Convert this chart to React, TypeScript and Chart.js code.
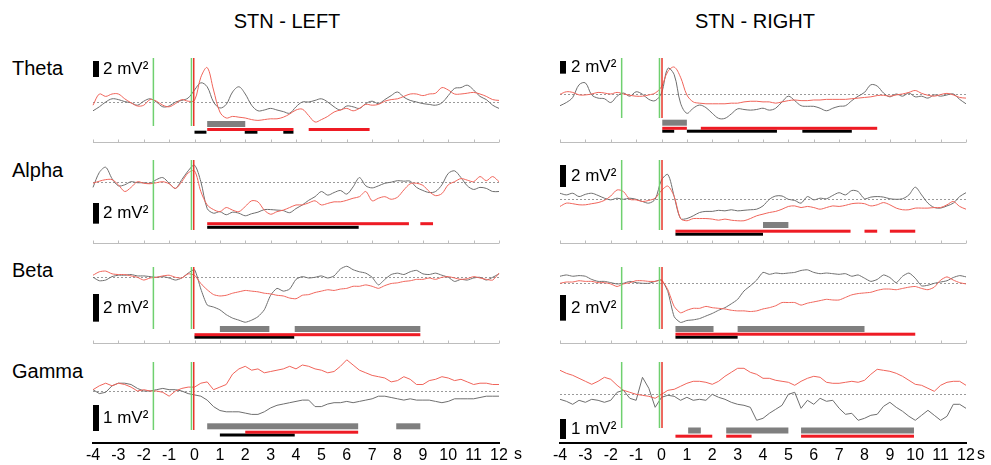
import React, { useEffect, useRef } from "react";
import { Chart, registerables } from "chart.js";

Chart.register(...registerables);

const FONT = "Arial, 'Liberation Sans', Helvetica, sans-serif";

// ---------- data ----------
const T_START = -4;
const T_STEP = 0.25;
const T_END = 12;
const TIMES: number[] = Array.from({ length: 65 }, (_, i) => T_START + i * T_STEP);
const X_TICKS = [-4, -3, -2, -1, 0, 1, 2, 3, 4, 5, 6, 7, 8, 9, 10, 11, 12];

// event markers (s)
const LEFT_GREEN_EVENTS = [-1.62, -0.12];
const LEFT_RED_EVENTS = [-0.03];
const RIGHT_GREEN_EVENTS = [-1.57, -0.08];
const RIGHT_RED_EVENTS = [0.02];

// Theta
const THETA_LEFT_GRAY = [-1.1, -0.6, 0, 0.4, 0.3, 0.05, -0.1, -0.4, 0.1, 0.4, 0, -0.6, -0.5, 0, 0.2, 0.5, 1.5, 2.4, 1.9, 0, -0.75, -0.3, 1.25, 1.9, 1.0, -0.4, -1.1, -1.0, -0.8, -1.0, -1.2, -1.4, -0.6, 0, 0, 0.2, 0.4, 0, -0.6, -1.0, -0.5, -0.6, -0.8, -0.2, 0.1, -0.2, 0.3, 0.8, 1.25, 0.6, 0.2, 0, -0.2, -0.3, -0.4, -0.1, 0.8, 1.7, 1.8, 2.1, 1.5, 0.7, 0.3, -0.4, -0.8];
const THETA_LEFT_RED = [-0.4, 1.0, 0.7, 1.0, 1.0, 0.4, -0.1, -0.5, -0.4, 0.3, 0.1, -0.4, -0.6, -0.2, 0.3, 0.1, 0.2, 3.1, 4.3, 1.5, -1.25, -2.0, -1.8, -1.9, -2.0, -2.2, -2.3, -2.2, -2.1, -2.1, -1.9, -1.5, -1.0, -0.9, -1.7, -2.5, -2.2, -1.8, -1.25, -1.0, -0.8, -1.1, -0.8, -0.3, -0.4, -0.3, 0.1, 0.3, 0.4, 0.7, 1.0, 1.0, 0.8, 1.0, 1.1, 1.8, 1.5, 1.0, 1.0, 1.1, 1.2, 1.0, 0.7, 0.3, 0.2];
const THETA_RIGHT_GRAY = [-1.8, -1.3, -0.5, 1.5, 1.8, -0.1, -0.6, -0.7, -1.3, -0.3, 0.2, -0.3, 0.4, 0, -0.8, -1.0, 0.2, 4.1, 3.1, -1.4, -3.0, -2.2, -1.7, -2.1, -3.0, -3.8, -3.8, -3.1, -2.3, -2.4, -2.5, -2.4, -2.2, -2.5, -2.2, -1.2, -0.3, -1.0, -1.8, -1.9, -1.9, -2.2, -2.6, -2.2, -1.9, -1.8, -1.0, -0.3, 0.3, 1.5, 1.3, 0.2, -0.4, 0.05, -0.3, 0.2, -0.4, -0.3, -0.6, -0.1, -0.3, -0.1, 0.05, -0.8, -1.5];
const THETA_RIGHT_RED = [0, 0.4, 0.3, -0.1, -0.1, 0.05, 0.3, 0.2, 0.05, 0.3, 0.05, -0.15, -0.3, -0.3, -0.1, 0.2, 1.2, 3.6, 4.3, 2.7, -0.1, -1.2, -1.4, -1.5, -1.5, -1.5, -1.5, -1.4, -1.4, -1.2, -1.1, -1.1, -1.2, -1.2, -1.4, -1.2, -1.0, -0.9, -1.0, -1.0, -0.9, -0.9, -0.8, -0.8, -0.8, -0.8, -0.7, -0.6, -0.5, -0.4, -0.2, -0.15, -0.3, -0.1, 0.05, 0.3, 0.6, 0.15, -0.15, -0.3, -0.05, 0.15, -0.1, -0.5, -0.6];

// Alpha
const ALPHA_LEFT_GRAY = [-0.55, 0.9, 1.4, 0.3, -0.4, -0.3, 0, -0.1, -0.1, -0.15, 0.2, 0.4, -0.15, -0.65, 0.2, 1.05, 1.6, 0, -2.6, -3.05, -2.9, -3.2, -2.95, -3.05, -3.3, -3.1, -2.95, -2.7, -2.7, -2.75, -2.8, -3.0, -2.6, -2.25, -1.8, -1.45, -0.95, -1.3, -1.05, -0.85, -1.2, -0.5, 0.4, -0.4, -0.6, -0.4, -0.15, -0.05, 0.1, 0.05, 0.05, -0.55, -0.85, -1.05, -0.95, -0.3, 0.8, 1.05, 0.4, -0.4, -0.75, -0.55, -0.65, -0.95, -0.95];
const ALPHA_LEFT_RED = [-0.15, 0.05, 0.2, 0.2, -0.3, -0.95, -0.55, 0, -0.15, -0.2, -0.1, 0, -0.2, -0.65, 0, 0.85, 1.05, -0.95, -2.25, -2.7, -2.9, -2.5, -2.75, -2.9, -2.4, -1.85, -1.95, -2.75, -3.15, -2.9, -2.75, -2.5, -2.25, -2.25, -2.05, -1.85, -2.25, -2.1, -1.95, -1.95, -1.8, -1.6, -1.45, -0.95, -1.85, -1.6, -1.45, -1.7, -1.5, -0.8, -0.2, -0.15, -0.35, -0.95, -1.35, -1.15, -0.3, 0, 0.3, 0.15, 0, 0.5, 0.1, 0.5, 0];
const ALPHA_RIGHT_GRAY = [0.55, 0.4, 0.55, 0.25, 0.45, 0.55, 0.35, 0.1, -0.05, 0.1, 0, 0.1, 0, -0.2, -0.35, 0, 1.75, 2.25, 0.25, -1.75, -1.75, -1.5, -1.2, -1.1, -1.1, -1.0, -1.05, -0.95, -1.05, -1.0, -0.95, -0.9, -0.6, 0, 0.3, 0.3, 0, -0.1, -0.35, 0.25, -0.05, 0.1, 0.05, 0.35, 0.6, 0.4, 0.8, 0.7, 0.05, 0.2, 0.25, 0.2, 0.05, 0, 0.05, 0.4, 1.1, 0.4, -0.35, -0.75, -0.8, -0.6, -0.35, 0.25, 0.6];
const ALPHA_RIGHT_RED = [-0.65, -0.35, -0.4, -0.5, -0.5, -0.4, -0.3, -0.1, 0.3, 0.85, 0.7, 0, -0.05, -0.2, -0.1, 0.1, 0.8, 1.2, 0.25, -1.75, -1.95, -1.75, -1.75, -1.75, -1.8, -1.9, -1.8, -1.9, -1.95, -1.95, -1.75, -1.5, -1.35, -1.2, -1.1, -0.9, -0.65, -0.6, -0.75, -0.65, -0.75, -0.9, -0.75, -0.6, -0.65, -0.55, -0.4, -0.35, -0.4, -0.6, -0.5, -0.3, -0.5, -0.8, -0.95, -0.95, -0.8, -0.8, -0.8, -0.75, -0.75, -0.5, -0.2, -0.65, -0.9];

// Beta
const BETA_LEFT_GRAY = [0, -0.25, -0.2, 0.05, 0.15, 0.15, 0.2, 0.1, 0.1, 0.05, 0, 0.05, -0.05, -0.2, -0.05, 0.3, 0.55, -0.85, -2.0, -2.15, -2.35, -2.7, -2.95, -3.1, -3.25, -3.1, -2.85, -2.35, -1.3, -0.8, -1.0, -0.85, -0.15, 0.05, -0.05, 0, 0.1, -0.05, 0.1, 0.6, 0.8, 0.55, 0.4, 0.3, 0, -0.55, -0.15, 0.2, 0.3, 0.2, 0.4, 0.5, 0.25, 0.2, 0.3, 0.15, 0, -0.3, -0.15, -0.2, -0.05, 0, -0.2, 0, 0.25];
const BETA_LEFT_RED = [0.15, 0.4, 0.45, 0.25, 0.2, 0.2, 0.1, 0, -0.2, -0.05, 0, 0.1, 0.15, 0, -0.05, 0.25, 0.15, -0.45, -0.9, -1.25, -1.35, -1.3, -1.15, -1.05, -0.95, -1.0, -1.05, -1.15, -1.2, -1.3, -1.35, -1.5, -1.55, -1.3, -1.25, -1.1, -1.0, -0.9, -0.95, -0.85, -0.8, -0.65, -0.65, -0.55, -0.65, -0.8, -0.6, -0.45, -0.4, -0.3, -0.25, -0.15, -0.15, -0.05, -0.15, 0, 0.05, -0.05, -0.15, -0.1, 0.05, -0.05, -0.15, -0.2, 0.3];
const BETA_RIGHT_GRAY = [0.55, 0.65, 0.55, 0.6, 0.55, 0.3, 0.15, 0.15, 0.05, -0.05, 0, 0.15, 0.05, 0, 0, 0.15, 0.25, -0.65, -2.6, -3.05, -2.9, -2.85, -2.75, -2.55, -2.35, -2.1, -1.9, -1.6, -1.25, -0.6, -0.2, 0.25, 0.85, 0.7, 0.8, 0.75, 0.8, 0.85, 1.0, 1.05, 0.85, 0.75, 0.8, 0.75, 0.7, 0.75, 0.55, 0.65, 0.4, 0.15, 0.3, 0.65, 0.45, 0.05, 0.55, 0.8, 0.4, -0.2, -0.15, 0, 0.1, 0.2, 0.45, 0.6, 0.5];
const BETA_RIGHT_RED = [0, 0.1, 0.1, 0.2, 0.15, 0.15, 0.05, 0.05, -0.05, -0.25, -0.05, 0.05, 0.2, 0.2, 0.15, 0.15, 0.25, -0.5, -1.8, -2.3, -2.1, -1.95, -1.95, -1.8, -1.9, -1.95, -2.0, -2.1, -2.15, -2.15, -2.2, -2.15, -2.0, -1.9, -1.75, -1.5, -1.5, -1.5, -1.7, -1.55, -1.45, -1.35, -1.25, -1.3, -1.3, -1.1, -0.9, -0.8, -0.75, -0.7, -0.55, -0.45, -0.45, -0.5, -0.4, -0.3, -0.25, -0.4, -0.5, -0.3, 0.25, 0.5, 0.25, 0.05, -0.05];

// Gamma
const GAMMA_LEFT_GRAY = [0.05, -0.1, -0.05, 0.2, 0.3, 0.3, 0.25, 0.1, 0, 0, 0.05, 0.1, 0.05, 0.05, 0, -0.1, -0.15, -0.2, -0.35, -0.6, -0.75, -0.8, -0.8, -0.8, -0.85, -0.9, -0.9, -0.8, -0.65, -0.55, -0.5, -0.45, -0.4, -0.35, -0.35, -0.6, -0.6, -0.5, -0.45, -0.45, -0.4, -0.45, -0.4, -0.35, -0.3, -0.2, -0.2, -0.25, -0.3, -0.35, -0.3, -0.35, -0.35, -0.35, -0.4, -0.45, -0.4, -0.3, -0.3, -0.3, -0.3, -0.25, -0.2, -0.2, -0.2];
const GAMMA_LEFT_RED = [0.05, 0.2, 0.3, 0.2, 0.3, 0.25, 0.15, 0, 0.05, 0, 0, -0.05, -0.2, 0, 0.1, 0.15, 0.15, 0.3, 0.35, 0.05, 0.15, 0.25, 0.65, 0.85, 0.95, 0.8, 0.85, 0.7, 0.75, 0.8, 0.85, 0.95, 0.85, 1.0, 0.95, 0.85, 0.8, 0.7, 0.75, 0.95, 1.2, 1.0, 0.8, 0.7, 0.6, 0.55, 0.5, 0.35, 0.4, 0.55, 0.45, 0.25, 0.25, 0.4, 0.45, 0.55, 0.5, 0.4, 0.45, 0.35, 0.25, 0.3, 0.3, 0.25, 0.25];
const GAMMA_RIGHT_GRAY = [-0.25, -0.35, -0.5, -0.3, -0.4, -0.25, -0.3, -0.4, -0.3, 0.1, 0.2, -0.2, -0.3, 0.85, 0.3, -0.65, -0.15, -0.05, -0.1, -0.3, -0.15, -0.3, -0.25, -0.3, 0, -0.15, -0.25, -0.4, -0.5, -0.55, -0.65, -1.3, -1.2, -0.95, -0.75, -0.55, 0, 0.1, -0.7, -0.3, -0.5, -0.2, -0.35, -0.3, -0.7, -1.0, -0.95, -1.3, -1.2, -1.05, -1.0, -0.6, -0.4, -0.65, -0.85, -1.1, -1.3, -1.05, -0.8, -1.05, -1.3, -1.1, -0.5, -0.5, -0.7];
const GAMMA_RIGHT_RED = [1.2, 1.05, 0.95, 0.8, 0.65, 0.5, 0.65, 0.85, 0.75, 0.45, 0.2, 0.1, 0, -0.05, -0.1, -0.2, 0, 0.2, 0.25, 0.4, 0.55, 0.65, 0.65, 0.6, 0.5, 0.65, 0.9, 1.1, 1.3, 1.3, 1.1, 1.0, 0.8, 0.8, 0.7, 0.65, 0.6, 0.45, 0.65, 0.8, 0.9, 0.85, 0.6, 0.55, 0.55, 0.6, 0.65, 0.6, 0.7, 1.0, 1.25, 1.2, 1.15, 1.05, 0.9, 0.7, 0.5, 0.45, 0.3, 0.15, 0.45, 0.6, 0.65, 0.65, 0.45];

// significance intervals [start, end] in s
const THETA_LEFT_SIG_GRAY = [[0.5, 2.0]];
const THETA_LEFT_SIG_RED = [[0.5, 3.9], [4.5, 6.9]];
const THETA_LEFT_SIG_BLACK = [[0.0, 0.47], [1.98, 2.48], [3.5, 3.9]];
const THETA_RIGHT_SIG_GRAY = [[0.03, 1.0]];
const THETA_RIGHT_SIG_RED = [[0.03, 1.0], [1.55, 8.5]];
const THETA_RIGHT_SIG_BLACK = [[0.03, 0.5], [1.0, 4.55], [5.55, 7.5]];
const ALPHA_LEFT_SIG_GRAY: number[][] = [];
const ALPHA_LEFT_SIG_RED = [[0.5, 8.45], [8.9, 9.4]];
const ALPHA_LEFT_SIG_BLACK = [[0.5, 6.47]];
const ALPHA_RIGHT_SIG_GRAY = [[4.0, 5.0]];
const ALPHA_RIGHT_SIG_RED = [[0.55, 7.45], [8.0, 8.5], [9.0, 10.0]];
const ALPHA_RIGHT_SIG_BLACK = [[0.55, 4.0]];
const BETA_LEFT_SIG_GRAY = [[1.0, 2.95], [3.95, 8.9]];
const BETA_LEFT_SIG_RED = [[0.0, 8.9]];
const BETA_LEFT_SIG_BLACK = [[0.0, 3.93]];
const BETA_RIGHT_SIG_GRAY = [[0.55, 2.05], [3.0, 8.0]];
const BETA_RIGHT_SIG_RED = [[0.55, 10.0]];
const BETA_RIGHT_SIG_BLACK = [[0.55, 3.0]];
const GAMMA_LEFT_SIG_GRAY = [[0.5, 6.45], [7.95, 8.9]];
const GAMMA_LEFT_SIG_RED = [[2.0, 6.45]];
const GAMMA_LEFT_SIG_BLACK = [[1.0, 3.95]];
const GAMMA_RIGHT_SIG_GRAY = [[1.05, 1.55], [2.55, 5.0], [5.5, 9.95]];
const GAMMA_RIGHT_SIG_RED = [[0.55, 2.0], [2.55, 3.55], [5.5, 9.95]];
const GAMMA_RIGHT_SIG_BLACK: number[][] = [];

const COLUMN_TITLES = ["STN - LEFT", "STN - RIGHT"];
const BAND_NAMES = ["Theta", "Alpha", "Beta", "Gamma"];
const SCALE_VALUES = [2, 2, 2, 1];
const SCALE_UNIT = "mV²";
const TIME_UNIT = "s";

// ---------- layout / style ----------
const RED_CURVE = "#f0645a";
const GRAY_CURVE = "#6e6e6e";
const GREEN_EVENT = "#6fd06f";
const RED_EVENT = "#e8372d";

const COLS = [
  { left: 60, right: 527, x0: 93, x1: 499, green: LEFT_GREEN_EVENTS, red: LEFT_RED_EVENTS, labelDx: 10, unitX: 514, titleCx: 287 },
  { left: 527, right: 991, x0: 560, x1: 966, green: RIGHT_GREEN_EVENTS, red: RIGHT_RED_EVENTS, labelDx: 11, unitX: 977, titleCx: 755 },
];
const ROWS = [
  { index: 0, top: 45, bottom: 150, axisY: 142, lineTop: 58, labelTop: 56 },
  { index: 1, top: 150, bottom: 250, axisY: 243, lineTop: 160, labelTop: 158 },
  { index: 2, top: 250, bottom: 350, axisY: 343, lineTop: 267, labelTop: 258 },
  { index: 3, top: 350, bottom: 465, axisY: 443, lineTop: 362, labelTop: 359 },
];

const PANELS = [
  { id: "thL", col: 0, row: 0, gray: THETA_LEFT_GRAY, red: THETA_LEFT_RED, sg: THETA_LEFT_SIG_GRAY, sr: THETA_LEFT_SIG_RED, sb: THETA_LEFT_SIG_BLACK, baseline: 102, k: 8, barTop: 61, lanes: { g: 18, r: 12.5, b: 9.8 }, lineGap: 16, tension: 0.35 },
  { id: "thR", col: 1, row: 0, gray: THETA_RIGHT_GRAY, red: THETA_RIGHT_RED, sg: THETA_RIGHT_SIG_GRAY, sr: THETA_RIGHT_SIG_RED, sb: THETA_RIGHT_SIG_BLACK, baseline: 94.3, k: 6.33, barTop: 61, lanes: { g: 19.3, r: 13.7, b: 10.8 }, lineGap: 24, tension: 0.35 },
  { id: "alL", col: 0, row: 1, gray: ALPHA_LEFT_GRAY, red: ALPHA_LEFT_RED, sg: ALPHA_LEFT_SIG_GRAY, sr: ALPHA_LEFT_SIG_RED, sb: ALPHA_LEFT_SIG_BLACK, baseline: 181.7, k: 10.33, barTop: 203, lanes: { g: 18, r: 19.3, b: 15.7 }, lineGap: 13, tension: 0.3 },
  { id: "alR", col: 1, row: 1, gray: ALPHA_RIGHT_GRAY, red: ALPHA_RIGHT_RED, sg: ALPHA_RIGHT_SIG_GRAY, sr: ALPHA_RIGHT_SIG_RED, sb: ALPHA_RIGHT_SIG_BLACK, baseline: 199.3, k: 11, barTop: 165, lanes: { g: 18, r: 11.8, b: 8.8 }, lineGap: 13, tension: 0.3 },
  { id: "beL", col: 0, row: 2, gray: BETA_LEFT_GRAY, red: BETA_LEFT_RED, sg: BETA_LEFT_SIG_GRAY, sr: BETA_LEFT_SIG_RED, sb: BETA_LEFT_SIG_BLACK, baseline: 277.3, k: 13.83, barTop: 294, lanes: { g: 14, r: 8.3, b: 5.8 }, lineGap: 14, tension: 0.2 },
  { id: "beR", col: 1, row: 2, gray: BETA_RIGHT_GRAY, red: BETA_RIGHT_RED, sg: BETA_RIGHT_SIG_GRAY, sr: BETA_RIGHT_SIG_RED, sb: BETA_RIGHT_SIG_BLACK, baseline: 283.3, k: 12.83, barTop: 295, lanes: { g: 14, r: 8.8, b: 5.8 }, lineGap: 14, tension: 0.2 },
  { id: "gaL", col: 0, row: 3, gray: GAMMA_LEFT_GRAY, red: GAMMA_LEFT_RED, sg: GAMMA_LEFT_SIG_GRAY, sr: GAMMA_LEFT_SIG_RED, sb: GAMMA_LEFT_SIG_BLACK, baseline: 391, k: 26, barTop: 405, lanes: { g: 16.7, r: 10.8, b: 8 }, lineGap: 13, tension: 0 },
  { id: "gaR", col: 1, row: 3, gray: GAMMA_RIGHT_GRAY, red: GAMMA_RIGHT_RED, sg: GAMMA_RIGHT_SIG_GRAY, sr: GAMMA_RIGHT_SIG_RED, sb: GAMMA_RIGHT_SIG_BLACK, baseline: 394.3, k: 20, barTop: 419, lanes: { g: 12.5, r: 6.8, b: 4 }, lineGap: 15, tension: 0 },
];

type Panel = typeof PANELS[number];

function makeDeco(p: Panel) {
  const col = COLS[p.col];
  const row = ROWS[p.row];
  const scaleValue = SCALE_VALUES[p.row];
  return {
    id: "deco_" + p.id,
    beforeDatasetsDraw(chart: any) {
      const { ctx, chartArea } = chart;
      const xs = chart.scales.x;
      const ys = chart.scales.y;
      ctx.save();
      // zero baseline
      const yb = Math.round(ys.getPixelForValue(0)) + 0.5;
      ctx.setLineDash([2, 2]);
      ctx.strokeStyle = "#9a9a9a";
      ctx.lineWidth = 1;
      ctx.beginPath();
      ctx.moveTo(xs.getPixelForValue(T_START), yb);
      ctx.lineTo(xs.getPixelForValue(T_END), yb);
      ctx.stroke();
      ctx.setLineDash([]);
      // separator axis with upward ticks
      if (row.index < 3) {
        const ya = Math.round(chartArea.bottom) + 0.5;
        ctx.strokeStyle = "#bdbdbd";
        ctx.beginPath();
        ctx.moveTo(chartArea.left, ya);
        ctx.lineTo(chartArea.right, ya);
        X_TICKS.forEach((v) => {
          const px = Math.round(xs.getPixelForValue(v)) + 0.5;
          ctx.moveTo(px, ya);
          ctx.lineTo(px, ya - 3);
        });
        ctx.stroke();
      }
      ctx.restore();
    },
    afterDatasetsDraw(chart: any) {
      const { ctx, chartArea } = chart;
      const xs = chart.scales.x;
      const ys = chart.scales.y;
      ctx.save();
      // event lines
      const top = chartArea.top;
      const bot = chartArea.bottom - p.lineGap;
      const drawV = (t: number, color: string) => {
        const px = xs.getPixelForValue(t);
        ctx.strokeStyle = color;
        ctx.lineWidth = 1.5;
        ctx.beginPath();
        ctx.moveTo(px, top);
        ctx.lineTo(px, bot);
        ctx.stroke();
      };
      col.green.forEach((t) => drawV(t, GREEN_EVENT));
      col.red.forEach((t) => drawV(t, RED_EVENT));
      // significance bars
      const lanes = [
        { list: p.sg, color: "#7f7f7f", off: p.lanes.g, h: 6 },
        { list: p.sb, color: "#000000", off: p.lanes.b, h: 3 },
        { list: p.sr, color: "#ee1b24", off: p.lanes.r, h: 3 },
      ];
      lanes.forEach((l) => {
        ctx.fillStyle = l.color;
        l.list.forEach(([a, b]) => {
          const xa = xs.getPixelForValue(a);
          const xb = xs.getPixelForValue(b);
          const yc = chartArea.bottom - l.off;
          ctx.fillRect(xa, yc - l.h / 2, xb - xa, l.h);
        });
      });
      // scale bar
      const barH = ys.getPixelForValue(0) - ys.getPixelForValue(scaleValue);
      ctx.fillStyle = "#000";
      ctx.fillRect(chartArea.left, p.barTop - row.top, 6, barH);
      ctx.restore();
    },
  };
}

function PanelChart({ p }: { p: Panel }) {
  const ref = useRef<HTMLCanvasElement>(null);
  const col = COLS[p.col];
  const row = ROWS[p.row];
  const w = col.right - col.left;
  const h = row.bottom - row.top;
  useEffect(() => {
    if (!ref.current) return;
    const isBottom = row.index === 3;
    const yMin = -(row.axisY - p.baseline) / p.k;
    const yMax = (p.baseline - row.lineTop) / p.k;
    const xScale: any = isBottom
      ? {
          type: "linear",
          min: T_START,
          max: T_END,
          display: true,
          position: "bottom",
          afterBuildTicks: (s: any) => {
            s.ticks = X_TICKS.map((v) => ({ value: v }));
          },
          afterFit: (s: any) => {
            s.height = row.bottom - row.axisY;
            s.paddingLeft = 0;
            s.paddingRight = 0;
          },
          grid: { display: false, drawTicks: false },
          border: { display: true, color: "#000", width: 2 },
          ticks: {
            autoSkip: false,
            maxRotation: 0,
            minRotation: 0,
            padding: 3,
            color: "#000",
            font: { family: FONT, size: 16 },
            callback: (v: any) => String(v),
          },
        }
      : { type: "linear", min: T_START, max: T_END, display: false };
    const chart = new Chart(ref.current, {
      type: "line",
      data: {
        datasets: [
          {
            data: TIMES.map((t, i) => ({ x: t, y: p.red[i] })),
            borderColor: RED_CURVE,
            borderWidth: 1,
            pointRadius: 0,
            tension: p.tension,
            clip: false as any,
          },
          {
            data: TIMES.map((t, i) => ({ x: t, y: p.gray[i] })),
            borderColor: GRAY_CURVE,
            borderWidth: 1,
            pointRadius: 0,
            tension: p.tension,
            clip: false as any,
          },
        ],
      },
      options: {
        responsive: false,
        animation: false,
        events: [],
        layout: {
          padding: {
            left: col.x0 - col.left,
            right: col.right - col.x1,
            top: row.lineTop - row.top,
            bottom: isBottom ? 0 : row.bottom - row.axisY,
          },
        },
        plugins: { legend: { display: false }, tooltip: { enabled: false } },
        scales: {
          x: xScale,
          y: { type: "linear", display: false, min: yMin, max: yMax },
        },
      } as any,
      plugins: [makeDeco(p) as any],
    });
    return () => chart.destroy();
  }, []);
  return (
    <canvas
      ref={ref}
      width={w}
      height={h}
      style={{ position: "absolute", left: col.left, top: row.top, width: w, height: h }}
    />
  );
}

export default function App() {
  return (
    <div
      style={{
        position: "fixed",
        left: 0,
        top: 0,
        width: 991,
        height: 465,
        background: "#fff",
        fontFamily: FONT,
        color: "#000",
        overflow: "hidden",
      }}
    >
      {COLUMN_TITLES.map((t, i) => (
        <div
          key={t}
          style={{ position: "absolute", left: COLS[i].titleCx - 100, width: 200, top: 9, textAlign: "center", fontSize: 20, lineHeight: "24px" }}
        >
          {t}
        </div>
      ))}
      {BAND_NAMES.map((b, i) => (
        <div key={b} style={{ position: "absolute", left: 12, top: ROWS[i].labelTop, fontSize: 20, lineHeight: "24px" }}>
          {b}
        </div>
      ))}
      {PANELS.map((p) => (
        <PanelChart key={p.id} p={p} />
      ))}
      {PANELS.map((p) => {
        const col = COLS[p.col];
        const barH = p.k * SCALE_VALUES[p.row];
        return (
          <div
            key={p.id + "_lbl"}
            style={{ position: "absolute", left: col.x0 + col.labelDx, top: p.barTop + barH / 2 - 10, fontSize: 17, lineHeight: "20px", whiteSpace: "nowrap" }}
          >
            {SCALE_VALUES[p.row] + " " + SCALE_UNIT}
          </div>
        );
      })}
      {COLS.map((c, i) => (
        <div key={"unit" + i} style={{ position: "absolute", left: c.unitX, top: 444, fontSize: 16, lineHeight: "19px" }}>
          {TIME_UNIT}
        </div>
      ))}
    </div>
  );
}
